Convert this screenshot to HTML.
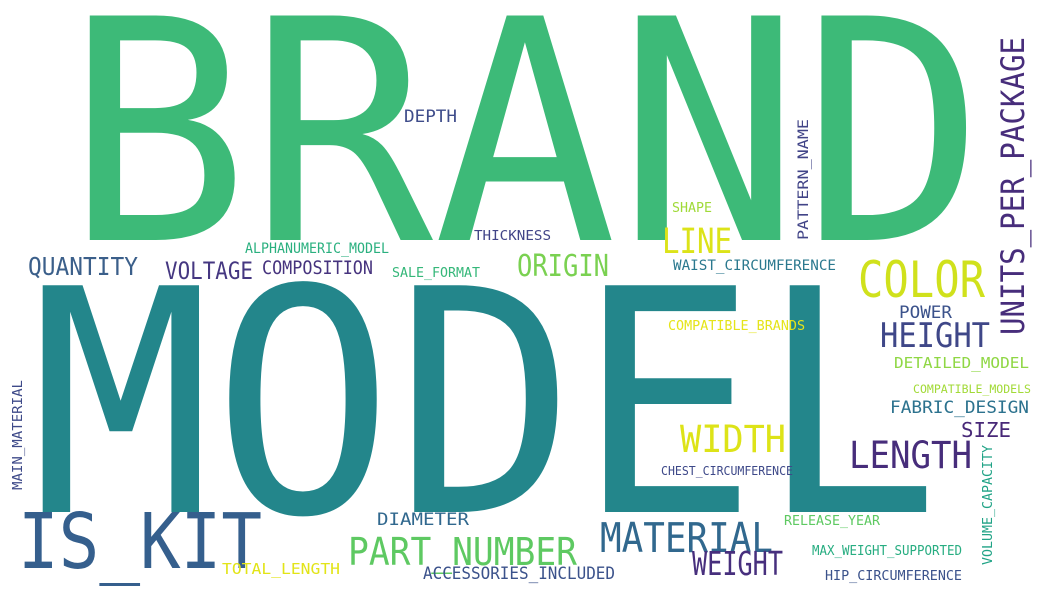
<!DOCTYPE html>
<html><head><meta charset="utf-8"><style>
html,body{margin:0;padding:0;background:#fff;width:1046px;height:595px;overflow:hidden}
svg text{font-family:"DejaVu Sans Mono","Liberation Mono",monospace}
</style></head><body>
<svg id="cloud" width="1046" height="595" viewBox="0 0 1046 595" xmlns="http://www.w3.org/2000/svg">
<rect width="1046" height="595" fill="#fff"/>
</svg>
<script>
// word, x-left (or baseline x for vertical), baseline y (or bottom y for vertical), font size, length, color, vertical
const words = ["BRAND","MODEL","IS_KIT","PART_NUMBER","MATERIAL","WEIGHT","LENGTH","WIDTH","HEIGHT","COLOR","UNITS_PER_PACKAGE","LINE","ORIGIN","QUANTITY","VOLTAGE","COMPOSITION","ALPHANUMERIC_MODEL","SALE_FORMAT","THICKNESS","DEPTH","SHAPE","PATTERN_NAME","WAIST_CIRCUMFERENCE","POWER","COMPATIBLE_BRANDS","DETAILED_MODEL","COMPATIBLE_MODELS","FABRIC_DESIGN","SIZE","CHEST_CIRCUMFERENCE","VOLUME_CAPACITY","RELEASE_YEAR","MAX_WEIGHT_SUPPORTED","HIP_CIRCUMFERENCE","DIAMETER","ACCESSORIES_INCLUDED","TOTAL_LENGTH","MAIN_MATERIAL"];
const xs = [65,30,18,348,600,692,849,680,880,858,1024,662,517,28,165,262,245,392,474,404,672,808,673,899,668,894,913,890,961,661,992,784,812,825,377,423,222,22];
const ys = [240,512,568,565,552,575,468,452,347,297,335,253,276,275,279,274,253,277,240,122,212,240,270,318,330,368,393,413,437,475,565,525,555,580,525,579,574,490];
const sizes = [308,311,77,38,41,33,37,37,34,50,32,35,30,25,24,18.5,14,13.5,13.5,17,13,14,14,17,13.5,15,11.5,17,20,12.5,13,13,13,13,16.5,16.5,15,13];
const lens = [920,910,244,229,173,91,123,106,110,127,298,70,92,110,88,111,144,88,77,53,40,121,163,53,137,135,118,139,50,132,120,96,150,137,92,192,118,110];
const colors = ["#3dba78","#23868b","#355f8d","#5ec962","#31688e","#472f7d","#472d7b","#dde318","#3f4788","#d0e11c","#472d7b","#dce319","#7ad151","#3b5f8a","#453781","#46337e","#2ab07f","#35b779","#414487","#3e4c8a","#a0da39","#414487","#2a788e","#3b528b","#e5e419","#8fd744","#a2da37","#2c728e","#482878","#3e4989","#20a386","#5ec962","#27ad81","#3b528b","#31688e","#3b528b","#e2e418","#3e4a89"];
const vertical = [0,0,0,0,0,0,0,0,0,0,1,0,0,0,0,0,0,0,0,0,0,1,0,0,0,0,0,0,0,0,1,0,0,0,0,0,0,1];
const svg = document.getElementById('cloud');
const NS = 'http://www.w3.org/2000/svg';
for (let i = 0; i < words.length; i++) {
  const t = document.createElementNS(NS, 'text');
  
  
  t.setAttribute('font-size', sizes[i]);
  t.setAttribute('fill', colors[i]);
  t.setAttribute('textLength', lens[i]);
  t.setAttribute('lengthAdjust', 'spacingAndGlyphs');
  if (vertical[i]) {
    t.setAttribute('x', 0);
    t.setAttribute('y', 0);
    t.setAttribute('transform', 'translate(' + xs[i] + ',' + ys[i] + ') rotate(-90)');
  } else {
    t.setAttribute('x', xs[i]);
    t.setAttribute('y', ys[i]);
  }
  t.textContent = words[i];
  svg.appendChild(t);
}
</script>
</body></html>
